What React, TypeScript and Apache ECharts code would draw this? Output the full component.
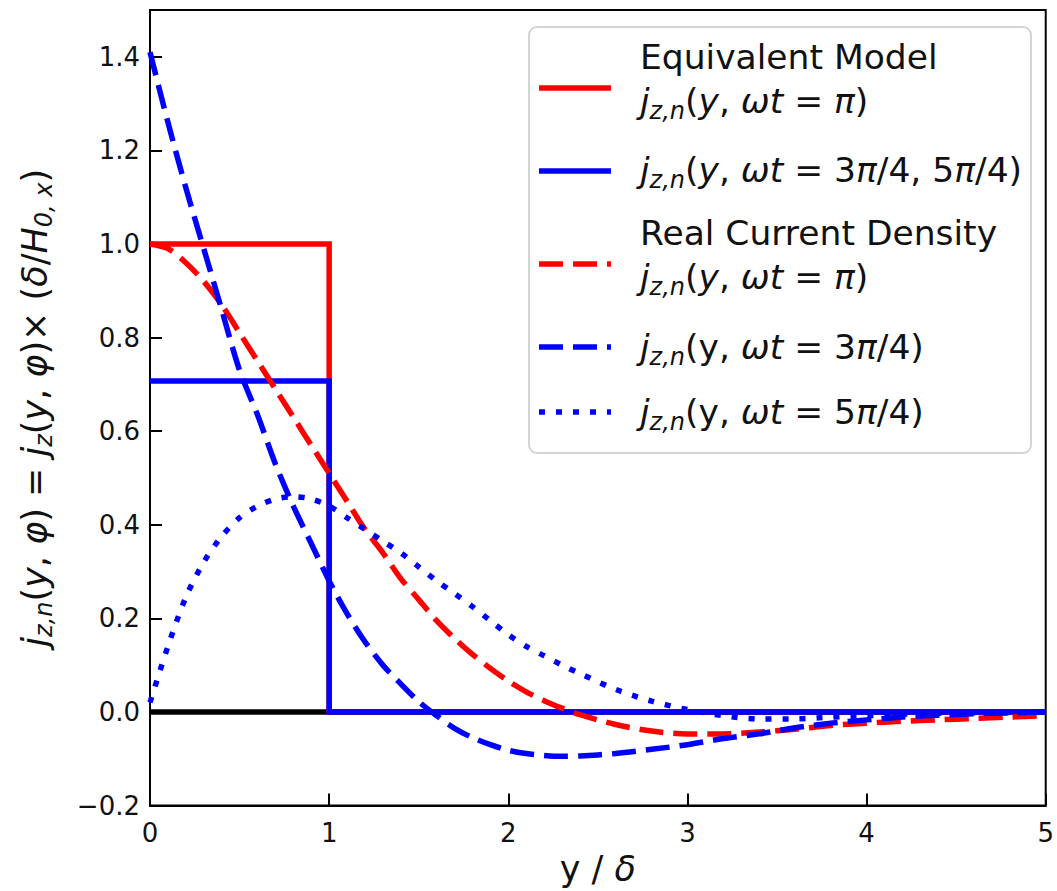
import React, { useEffect, useRef } from 'react';
import * as echarts from 'echarts';

// x positions (y / δ) at which the curves were read
const xs = [0, 0.1, 0.2, 0.3, 0.4, 0.5, 0.6, 0.7, 0.8, 0.9, 1.0, 1.1, 1.2, 1.3, 1.4, 1.5, 1.6, 1.7, 1.8, 1.9, 2.0, 2.1, 2.2, 2.3, 2.4, 2.6, 2.8, 3.0, 3.2, 3.4, 3.6, 3.8, 4.0, 4.2, 4.4, 4.6, 4.8, 5.0];

// Real current density, ωt = π (red dashed)
const realPi = [1.0, 0.99, 0.96, 0.92, 0.87, 0.81, 0.75, 0.69, 0.63, 0.57, 0.51, 0.45, 0.39, 0.34, 0.285, 0.24, 0.195, 0.157, 0.123, 0.093, 0.066, 0.043, 0.024, 0.008, -0.006, -0.027, -0.041, -0.047, -0.047, -0.043, -0.037, -0.029, -0.024, -0.02, -0.017, -0.014, -0.011, -0.008];

// Real current density, ωt = 3π/4 (blue dashed)
const real3Pi4 = [1.41, 1.26, 1.12, 0.99, 0.86, 0.73, 0.635, 0.53, 0.44, 0.36, 0.28, 0.21, 0.15, 0.1, 0.06, 0.022, -0.008, -0.035, -0.055, -0.07, -0.082, -0.089, -0.093, -0.095, -0.094, -0.089, -0.08, -0.07, -0.057, -0.047, -0.034, -0.024, -0.017, -0.011, -0.007, -0.004, -0.002, 0.0];

// Real current density, ωt = 5π/4 (blue dotted)
const real5Pi4 = [0.02, 0.14, 0.245, 0.32, 0.375, 0.415, 0.44, 0.455, 0.46, 0.455, 0.44, 0.415, 0.39, 0.365, 0.34, 0.31, 0.28, 0.253, 0.225, 0.195, 0.165, 0.14, 0.12, 0.1, 0.082, 0.048, 0.023, 0.005, -0.008, -0.015, -0.015, -0.011, -0.008, -0.005, -0.003, -0.002, -0.001, 0.0];

// Equivalent model (step profiles)
const eqX = [0, 1, 1, 5];
const eqPi = [1.0, 1.0, 0, 0];
const eq3Pi4 = [0.707, 0.707, 0, 0];

// Zero reference line
const zeroX = [0, 5];
const zeroY = [0, 0];

const xMin = 0;
const xMax = 5;
const xStep = 1;
const yMin = -0.2;
const yMax = 1.5;
const yStep = 0.2;

const FONT = 'DejaVu Sans';
const TXT = '#111111';

const pairs = (x: number[], y: number[]) => x.map((v, i) => [v, y[i]]);

const mathRich = (size: number, sub: number, lh: number) => ({
  n: { fontSize: size, fontFamily: FONT, color: TXT, lineHeight: lh },
  i: { fontSize: size, fontFamily: FONT, fontStyle: 'italic', color: TXT, lineHeight: lh },
  s: { fontSize: sub, fontFamily: FONT, fontStyle: 'italic', color: TXT, lineHeight: sub + 2, verticalAlign: 'bottom' },
});

const legendRich = mathRich(34.5, 24, 44);

const legendMathPi = '{i|j}{s|z,n}{n|(}{i|y}{n|, }{i|ωt}{n| = }{i|π}{n|)}';
const legendMathBoth = '{i|j}{s|z,n}{n|(}{i|y}{n|, }{i|ωt}{n| = 3}{i|π}{n|/4, 5}{i|π}{n|/4)}';
const legendMath3 = '{i|j}{s|z,n}{n|(y, }{i|ωt}{n| = 3}{i|π}{n|/4)}';
const legendMath5 = '{i|j}{s|z,n}{n|(y, }{i|ωt}{n| = 5}{i|π}{n|/4)}';

export default function App() {
  const ref = useRef<HTMLDivElement>(null);

  useEffect(() => {
    const chart = echarts.init(ref.current!, null, { renderer: 'svg' });

    const lineSeries = (data: number[][], color: string, type: any, z: number) => ({
      type: 'line',
      data,
      showSymbol: false,
      symbol: 'none',
      smooth: 0.3,
      silent: true,
      z,
      lineStyle: { color, width: 5.5, type, cap: 'butt', join: 'miter' },
    });

    const handle = (y: number, color: string, dash: any) => ({
      type: 'line',
      z: 101,
      shape: { x1: 539, y1: y, x2: 611, y2: y },
      style: { stroke: color, lineWidth: 5.5, lineDash: dash, lineCap: 'butt' },
    });

    const txt = (y: number, text: string) => ({
      type: 'text',
      z: 101,
      x: 640,
      y,
      style: {
        text,
        rich: legendRich,
        fontSize: 34.5,
        fontFamily: FONT,
        fill: TXT,
        verticalAlign: 'middle',
        align: 'left',
      },
    });

    const option: any = {
      animation: false,
      backgroundColor: '#ffffff',
      grid: {
        left: 150,
        top: 10,
        width: 901,
        height: 798,
        show: true,
        borderColor: '#000',
        borderWidth: 2,
        backgroundColor: 'transparent',
        containLabel: false,
      },
      xAxis: {
        type: 'value',
        min: xMin,
        max: xMax,
        interval: xStep,
        axisLine: { show: true, onZero: false, lineStyle: { color: '#000', width: 2 } },
        axisTick: { show: true, inside: true, length: 12, lineStyle: { color: '#000', width: 2 } },
        splitLine: { show: false },
        axisLabel: {
          margin: 14,
          fontSize: 26,
          fontFamily: FONT,
          color: TXT,
          formatter: (v: number) => String(Math.round(v)),
        },
        name: '{n|y / }{i|δ}',
        nameLocation: 'middle',
        nameGap: 42,
        nameTextStyle: { rich: mathRich(35, 24, 42) },
      },
      yAxis: {
        type: 'value',
        min: yMin,
        max: yMax,
        interval: yStep,
        axisLine: { show: true, lineStyle: { color: '#000', width: 2 } },
        axisTick: { show: true, inside: true, length: 12, lineStyle: { color: '#000', width: 2 } },
        splitLine: { show: false },
        axisLabel: {
          margin: 10,
          fontSize: 26,
          fontFamily: FONT,
          color: TXT,
          showMaxLabel: false,
          formatter: (v: number) => (v < -1e-9 ? '\u2212' + Math.abs(v).toFixed(1) : Math.abs(v).toFixed(1)),
        },
        name: '{i|j}{s|z,n}{n|(}{i|y}{n|, }{i|φ}{n|) = }{i|j}{s|z}{n|(}{i|y}{n|, }{i|φ}{n|)× (}{i|δ}{n|/}{i|H}{s|0, x}{n|)}',
        nameLocation: 'middle',
        nameRotate: 90,
        nameGap: 94,
        nameTextStyle: { rich: mathRich(35, 24, 42) },
      },
      series: [
        lineSeries(pairs(zeroX, zeroY), '#000000', 'solid', 2),
        { ...lineSeries(pairs(eqX, eqPi), '#ff0000', 'solid', 3), smooth: false },
        { ...lineSeries(pairs(eqX, eq3Pi4), '#0000ff', 'solid', 4), smooth: false },
        lineSeries(pairs(xs, realPi), '#ff0000', [24, 10], 5),
        lineSeries(pairs(xs, real3Pi4), '#0000ff', [24, 10], 6),
        lineSeries(pairs(xs, real5Pi4), '#0000ff', [6, 11], 7),
      ],
      graphic: [
        {
          type: 'rect',
          z: 100,
          shape: { x: 529, y: 27, width: 502, height: 426, r: 8 },
          style: { fill: 'rgba(255,255,255,0.8)', stroke: '#d4d4d4', lineWidth: 2 },
        },
        handle(88, '#ff0000', null),
        handle(171, '#0000ff', null),
        handle(264, '#ff0000', [24, 10]),
        handle(347, '#0000ff', [24, 10]),
        handle(412, '#0000ff', [6, 11]),
        txt(57, '{n|Equivalent Model}'),
        txt(101, legendMathPi),
        txt(170, legendMathBoth),
        txt(233, '{n|Real Current Density}'),
        txt(277, legendMathPi),
        txt(347, legendMath3),
        txt(412, legendMath5),
      ],
    };

    chart.setOption(option);
    return () => chart.dispose();
  }, []);

  return (
    <div
      ref={ref}
      style={{ position: 'absolute', left: 0, top: 0, width: 1057, height: 891 }}
    />
  );
}
